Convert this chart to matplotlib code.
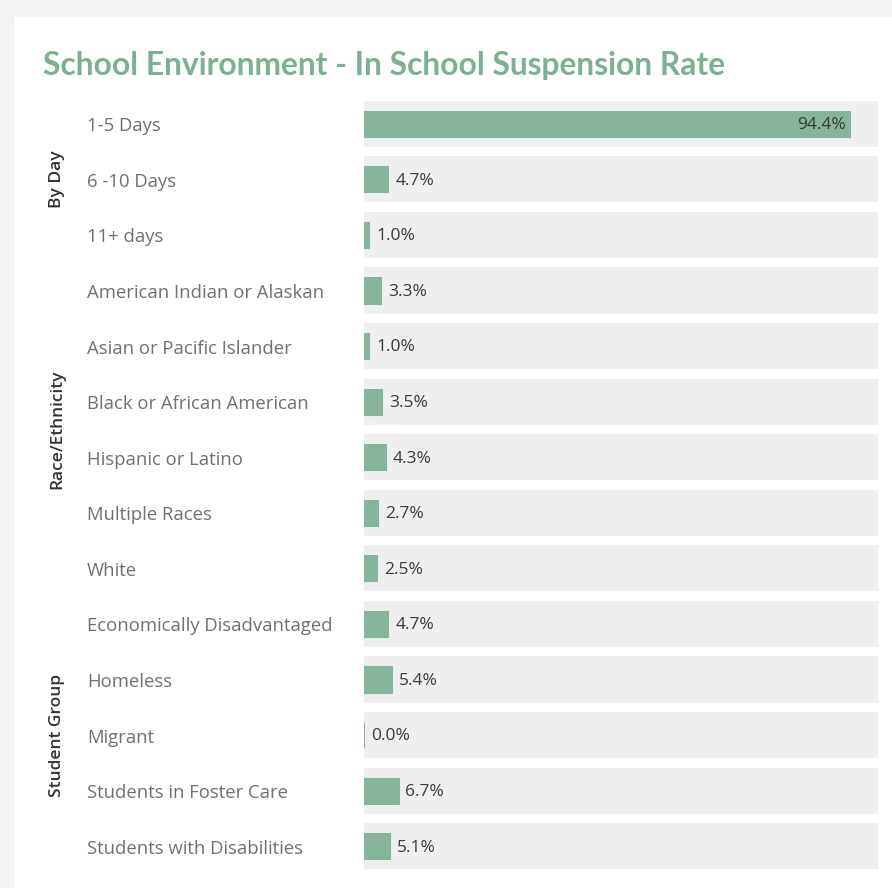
import matplotlib.pyplot as plt
from matplotlib.patches import Rectangle

# data
categories = ["1-5 Days", "6 -10 Days", "11+ days",
              "American Indian or Alaskan", "Asian or Pacific Islander",
              "Black or African American", "Hispanic or Latino",
              "Multiple Races", "White",
              "Economically Disadvantaged", "Homeless", "Migrant",
              "Students in Foster Care", "Students with Disabilities"]
rates = [94.4, 4.7, 1.0, 3.3, 1.0, 3.5, 4.3, 2.7, 2.5, 4.7, 5.4, 0.0, 6.7, 5.1]
groups = ["By Day", "Race/Ethnicity", "Student Group"]
group_sizes = [3, 6, 5]

W, H = 892, 888
BAR = '#87b59b'
TITLE = '#7daf90'
plt.rcParams['font.family'] = ['Open Sans', 'DejaVu Sans']

fig = plt.figure(figsize=(W / 100, H / 100), dpi=100)
fig.patch.set_facecolor('#f3f3f3')
# white panel
fig.patches.append(Rectangle((14 / W, 0), 1, 1 - 17 / H, transform=fig.transFigure,
                             facecolor='white', edgecolor='none', zorder=-5))

top_px, bot_px = 96.0, 874.0
ax = fig.add_axes([364 / W, 1 - bot_px / H, (878 - 364) / W, (bot_px - top_px) / H])
ax.set_zorder(2)
ax.set_facecolor('none')
n = len(categories)
ax.set_xlim(0, 99.8)
ax.set_ylim(n - 0.5, -0.5)
for s in ax.spines.values():
    s.set_visible(False)
ax.set_xticks([])
ax.set_yticks([])

for i, (cat, v) in enumerate(zip(categories, rates)):
    ax.barh(i, 99.8, height=0.83, color='#efefef', zorder=1)
    ax.barh(i, v, height=0.47, color=BAR, edgecolor=BAR, linewidth=0.8, zorder=2)
    if v > 50:
        ax.annotate(f"{v:.1f}%", (v, i), xytext=(-3, -1), textcoords='offset points',
                    ha='right', va='center', fontsize=12.5, color='#3a3a3a', zorder=3)
    else:
        ax.annotate(f"{v:.1f}%", (v, i), xytext=(5, -1), textcoords='offset points',
                    ha='left', va='center', fontsize=12.5, color='#3a3a3a', zorder=3)
    # category label
    y_fig = (ax.transData.transform((0, i))[1] - 2.5) / H
    fig.text(87 / W, y_fig, cat, ha='left', va='center', fontsize=13.3, color='#707070')

# group labels
start = 0
for g, size in zip(groups, group_sizes):
    mid = start + (size - 1) / 2
    y_fig = ax.transData.transform((0, mid))[1] / H
    fig.text(57 / W, y_fig, g, rotation=90, ha='center', va='center',
             fontsize=12.5, fontweight='semibold', color='#333333')
    start += size

fig.text(43 / W, 1 - 65 / H, "School Environment - In School Suspension Rate",
         ha='left', va='center', fontsize=22.9, fontweight='bold', color=TITLE,
         family=['Lato', 'DejaVu Sans'])

fig.savefig('out.png', dpi=100)
